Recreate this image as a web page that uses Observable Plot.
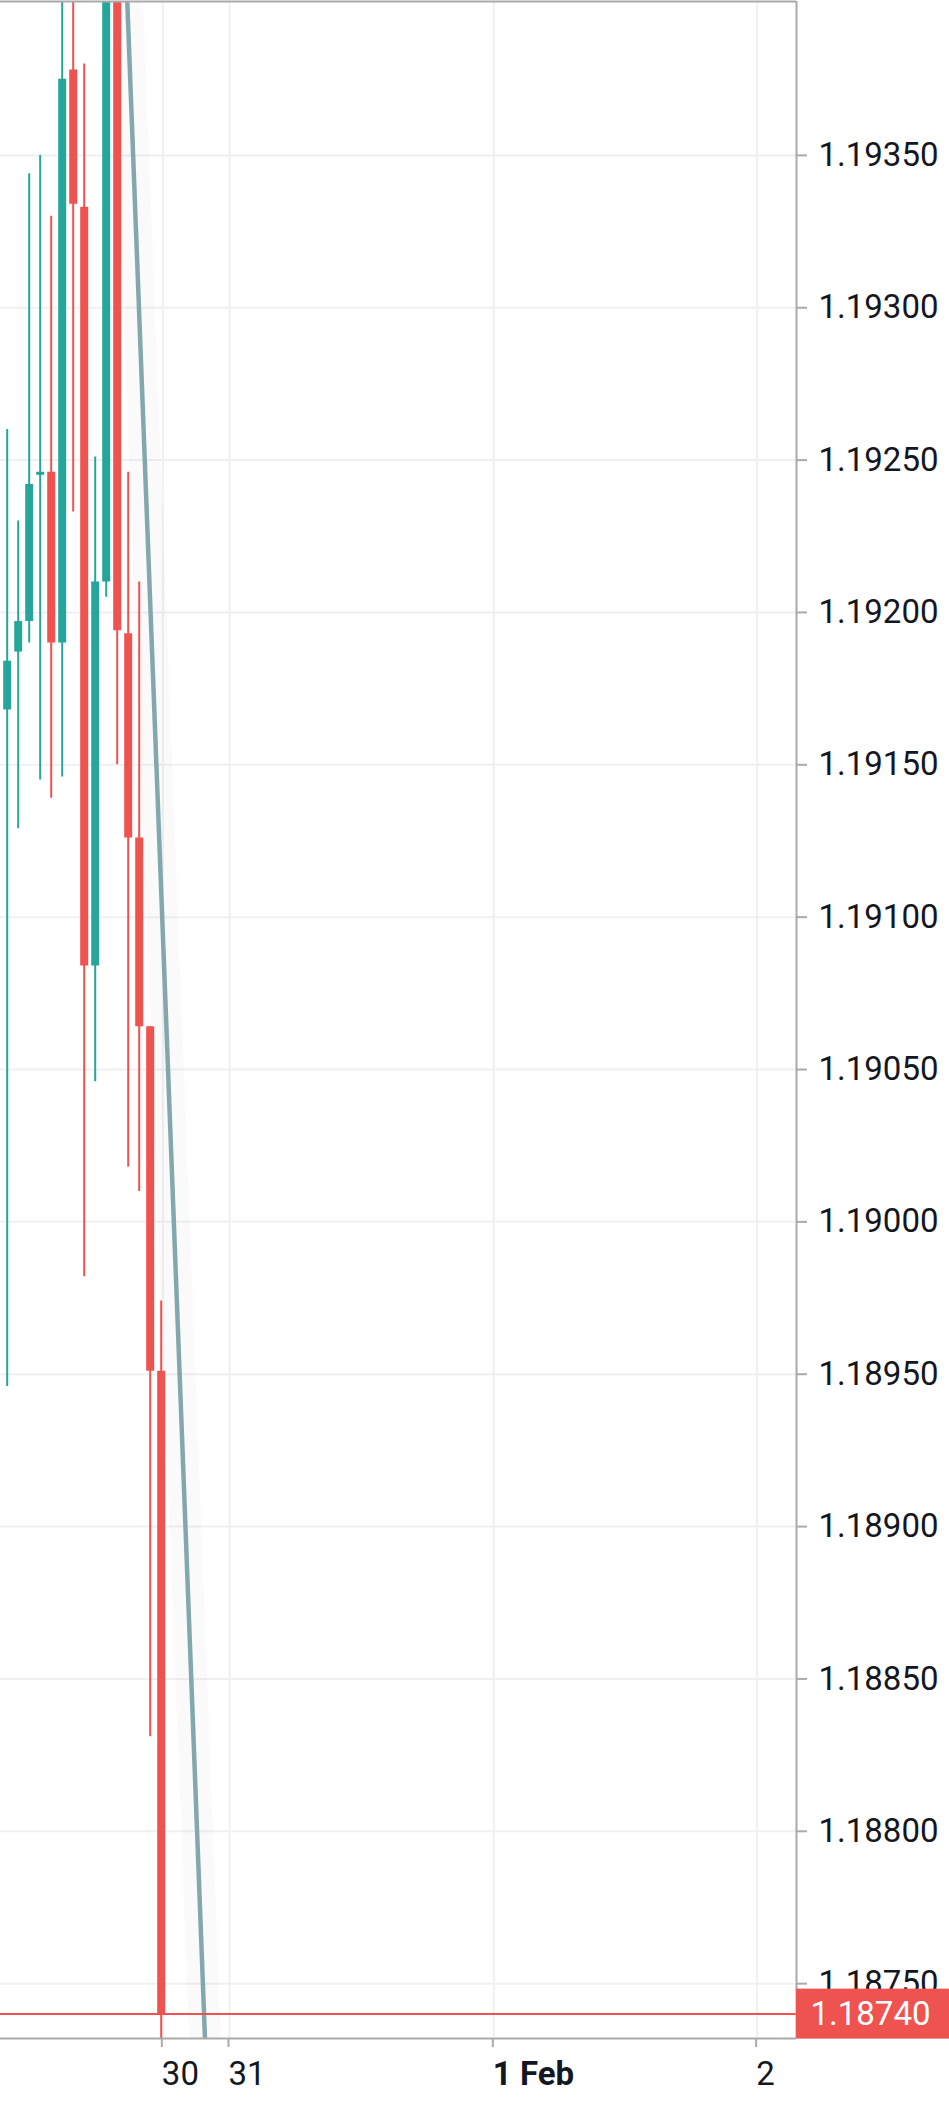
<!DOCTYPE html>
<html>
<head>
<meta charset="utf-8">
<script src="https://cdn.jsdelivr.net/npm/d3@7"></script>
<script src="https://cdn.jsdelivr.net/npm/@observablehq/plot@0.6"></script>
<style>
  html, body { margin: 0; padding: 0; background: #ffffff; }
  #chart svg { display: block; }
</style>
</head>
<body>
<div id="chart"></div>
<script>
// ---- Data (hourly candles, bar index on x) ----
const barIndex = [0, 1, 2, 3, 4, 5, 6, 7, 8, 9, 10, 11, 12, 13, 14];
const open  = [1.19168, 1.19187, 1.19197, 1.19245, 1.19246, 1.19190, 1.19378, 1.19333, 1.19084, 1.19210, 1.19440, 1.19193, 1.19126, 1.19064, 1.18951];
const high  = [1.19260, 1.19230, 1.19344, 1.19350, 1.19330, 1.19430, 1.19420, 1.19380, 1.19251, 1.19480, 1.19470, 1.19246, 1.19210, 1.19064, 1.18974];
const low   = [1.18946, 1.19129, 1.19190, 1.19145, 1.19139, 1.19146, 1.19233, 1.18982, 1.19046, 1.19205, 1.19150, 1.19018, 1.19010, 1.18831, 1.18720];
const close = [1.19184, 1.19197, 1.19242, 1.19246, 1.19190, 1.19375, 1.19334, 1.19084, 1.19210, 1.19440, 1.19194, 1.19126, 1.19064, 1.18951, 1.18740];

const lastPrice = 1.18740;

// trend line (two anchor points, bar index / price)
const trendX = [10.91, 17.98];
const trendY = [1.19401, 1.18732];

// axes
const yTicks = [1.18750, 1.18800, 1.18850, 1.18900, 1.18950, 1.19000, 1.19050, 1.19100, 1.19150, 1.19200, 1.19250, 1.19300, 1.19350];
const xTickPos    = [14.15, 20.21, 44.24, 68.18];
const xTickLabels = ["30", "31", "1 Feb", "2"];
const xTickBold   = [false, false, true, false];

const xDomain = [-0.609, 71.755];
const yDomain = [1.187320, 1.194005];

// ---- Build tables ----
const candles = barIndex.map((i, k) => ({
  i, open: open[k], high: high[k], low: low[k], close: close[k],
  up: close[k] >= open[k]
}));
const trend = trendX.map((x, k) => ({x, y: trendY[k]}));
const labelOf = d => xTickLabels[xTickPos.indexOf(d)];
const normalTicks = xTickPos.filter((d, k) => !xTickBold[k]);
const boldTicks = xTickPos.filter((d, k) => xTickBold[k]);

const UP = "#26a69a", DOWN = "#ef5350", AXIS = "#aaaaaa", GRID = "#f0f0f3", TEXT = "#131722";

const width = 949, height = 2104;
const marginLeft = 0, marginRight = 153, marginTop = 1, marginBottom = 66;

const chart = Plot.plot({
  width, height, marginLeft, marginRight, marginTop, marginBottom,
  x: {type: "linear", domain: xDomain},
  y: {type: "linear", domain: yDomain},
  style: {fontFamily: "Roboto, 'Open Sans', sans-serif", fontSize: "33px", background: "#ffffff", color: TEXT},
  marks: [
    Plot.gridY(yTicks, {stroke: GRID, strokeOpacity: 1, strokeWidth: 2}),
    Plot.gridX(xTickPos, {stroke: GRID, strokeOpacity: 1, strokeWidth: 2}),
    // faint halo of the trend line
    Plot.line(trend, {x: "x", y: "y", stroke: "#000", strokeOpacity: 0.018, strokeWidth: 32, clip: true}),
    // wicks
    Plot.ruleX(candles, {x: "i", y1: "low", y2: "high", stroke: d => d.up ? UP : DOWN, strokeWidth: 2, clip: true}),
    // bodies
    Plot.ruleX(candles, {x: "i", y1: "open", y2: "close", stroke: d => d.up ? UP : DOWN, strokeWidth: 8, clip: true}),
    // trend line
    Plot.line(trend, {x: "x", y: "y", stroke: "#82a8ae", strokeWidth: 4.5, clip: true}),
    // last price line
    Plot.ruleY([lastPrice], {stroke: DOWN, strokeWidth: 2}),
    // frame lines (top, right, bottom)
    Plot.ruleY([yDomain[1]], {stroke: AXIS, strokeWidth: 2}),
    Plot.ruleY([yDomain[0]], {stroke: AXIS, strokeWidth: 2}),
    Plot.ruleX([xDomain[1]], {stroke: AXIS, strokeWidth: 2}),
    // y axis
    Plot.axisY(yTicks, {anchor: "right", tickSize: 10, tickPadding: 12, tickFormat: d => d.toFixed(5),
      stroke: AXIS, strokeWidth: 2, fill: TEXT, fontSize: 33, label: null}),
    // x axis
    Plot.axisX(normalTicks, {anchor: "bottom", tickSize: 9, tickPadding: 14, tickFormat: labelOf,
      textAnchor: "start", dx: -1, stroke: AXIS, strokeWidth: 2, fill: TEXT, fontSize: 33, label: null}),
    Plot.axisX(boldTicks, {anchor: "bottom", tickSize: 9, tickPadding: 14, tickFormat: labelOf,
      textAnchor: "start", dx: -1, stroke: AXIS, strokeWidth: 2, fill: TEXT, fontSize: 33, fontWeight: "bold", label: null}),
    // last price label text
    Plot.text([lastPrice], {y: d => d, text: d => d.toFixed(5), frameAnchor: "right", dx: 14,
      textAnchor: "start", fill: "#ffffff", fontSize: 33})
  ]
});

document.getElementById("chart").appendChild(chart);

// background box for the last-price label (placed via the y scale), drawn under the label text
const ys = chart.scale("y");
const yPix = d3.scaleLinear(ys.domain, ys.range)(lastPrice);
const svg = d3.select(chart);
const box = svg.append("rect")
  .attr("x", width - marginRight)
  .attr("y", yPix - 25)
  .attr("width", marginRight)
  .attr("height", 50)
  .attr("fill", DOWN);
svg.selectAll("text")
  .filter(function() { return this.textContent === lastPrice.toFixed(5); })
  .each(function() {
    const g = this.closest("g") || this;
    d3.select(g).raise();
  });
</script>
</body>
</html>
